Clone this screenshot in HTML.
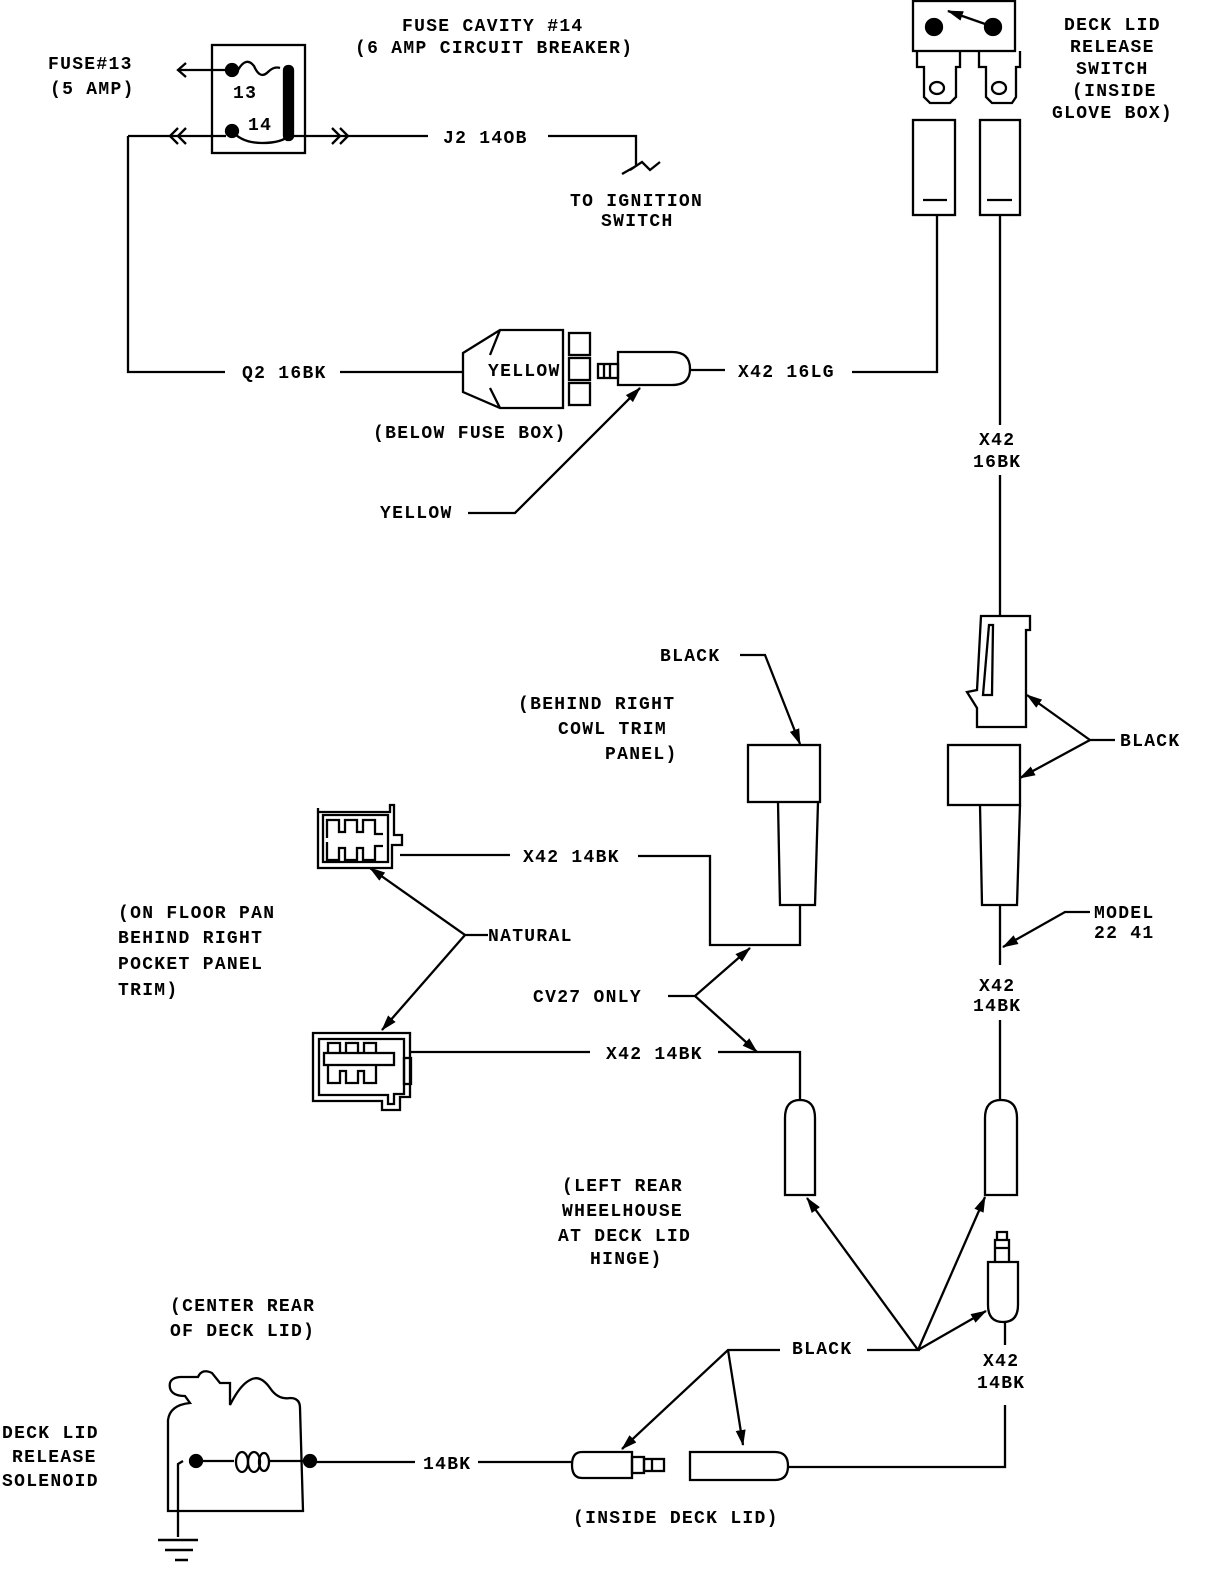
<!DOCTYPE html>
<html><head><meta charset="utf-8"><style>
html,body{margin:0;padding:0;background:#fff;}
svg{display:block}
text{font-family:"Liberation Mono",monospace;font-weight:bold;font-size:18px;letter-spacing:1.3px;fill:#000}
</style></head><body>
<svg width="1216" height="1574" viewBox="0 0 1216 1574" xmlns="http://www.w3.org/2000/svg">
<defs>
<marker id="a" markerWidth="16" markerHeight="12" refX="15" refY="6" orient="auto" markerUnits="userSpaceOnUse" viewBox="0 0 16 12">
<path d="M0,1 L16,6 L0,11 Z" fill="#000"/></marker>
</defs>
<g fill="none" stroke="#000" stroke-width="2.3">
<!-- fuse box -->
<rect x="212" y="45" width="93" height="108"/>
<path d="M232,70 L178,70 M186,63 L178,70 L186,77"/>
<circle cx="232" cy="70" r="6" fill="#000"/><circle cx="232" cy="131" r="6" fill="#000"/>
<path d="M238,70 q8,-14 16,-4 q6,14 14,6 q6,-6 12,-4"/>
<path d="M232,131 q10,12 30,12 q20,0 28,-8"/>
<rect x="284" y="66" width="9" height="74" rx="4" fill="#000"/>
<path d="M128,136 L226,136 M293,136 L348,136"/>
<path d="M178,128 L170,136 L178,144 M186,128 L178,136 L186,144"/>
<path d="M332,128 L340,136 L332,144 M340,128 L348,136 L340,144"/>
<path d="M348,136 L428,136 M548,136 L636,136 L636,166 L622,174 M630,170 L642,162 L650,170 L660,162"/>
<path d="M128,136 L128,372 L225,372 M340,372 L463,372"/>
<!-- yellow connector -->
<path d="M463,353 L500,330 L563,330 L563,408 L500,408 L463,392 Z M500,330 L490,355 M500,408 L490,388"/>
<rect x="569" y="333" width="21" height="22"/><rect x="569" y="358" width="21" height="22"/><rect x="569" y="383" width="21" height="22"/>
<rect x="598" y="364" width="20" height="14"/><path d="M604,364 v14 M610,364 v14"/>
<path d="M618,352 L672,352 Q690,352 690,369 Q690,385 672,385 L618,385 Z"/>
<path d="M690,370 L725,370 M852,372 L937,372 L937,215 M1000,215 L1000,425 M1000,475 L1000,616"/>
<path d="M468,513 L515,513 L640,388" marker-end="url(#a)"/>
<!-- switch -->
<rect x="913" y="1" width="102" height="50"/>
<circle cx="934" cy="27" r="8" fill="#000"/><circle cx="993" cy="27" r="8" fill="#000"/>
<path d="M988,25 L948,11" marker-end="url(#a)"/>
<path d="M917,51 L917,67 L924,67 L924,97 L930,103 L950,103 L956,97 L956,67 L960,67 L960,51"/>
<path d="M979,51 L979,67 L986,67 L986,97 L992,103 L1012,103 L1016,97 L1016,67 L1020,67 L1020,51"/>
<ellipse cx="937" cy="88" rx="7" ry="6"/><ellipse cx="999" cy="88" rx="7" ry="6"/>
<rect x="913" y="120" width="42" height="95"/><rect x="980" y="120" width="40" height="95"/>
<path d="M923,200 L947,200 M987,200 L1012,200"/>
<!-- right upper connectors -->
<path d="M981,616 L1030,616 L1030,630 L1026,630 L1026,727 L977,727 L977,708 L967,692 L977,690 Z M989,625 L993,625 L992,695 L983,695 Z"/>
<rect x="948" y="745" width="72" height="60"/>
<path d="M980,805 L982,905 L1017,905 L1020,805 M1000,905 L1000,965 M1000,1020 L1000,1100"/>
<path d="M1115,740 L1090,740 L1027,695" marker-end="url(#a)"/><path d="M1090,740 L1020,778" marker-end="url(#a)"/>
<path d="M1090,912 L1065,912 L1003,947" marker-end="url(#a)"/>
<path d="M985,1195 L985,1118 Q985,1100 1001,1100 Q1017,1100 1017,1118 L1017,1195 Z"/>
<!-- middle connectors -->
<path d="M740,655 L765,655 L800,744" marker-end="url(#a)"/>
<rect x="748" y="745" width="72" height="57"/>
<path d="M778,802 L780,905 L815,905 L818,802 M800,905 L800,945 L710,945 L710,856 L638,856 M510,855 L400,855"/>
<!-- left upper connector -->
<path d="M318,808 L318,868 L392,868 L392,845 L402,845 L402,835 L394,835 L394,805 L390,805 L390,812 L318,812"/>
<path d="M323,815 L388,815 L388,862 L323,862 Z"/>
<path d="M327,838 v-18 h12 v12 h6 v-12 h12 v12 h6 v-12 h12 v14 h8 M327,842 v18 h12 v-12 h6 v12 h12 v-12 h6 v12 h12 v-14 h8"/>
<path d="M488,935 L465,935 L370,868" marker-end="url(#a)"/><path d="M465,935 L382,1030" marker-end="url(#a)"/>
<path d="M668,996 L695,996 L750,948" marker-end="url(#a)"/><path d="M695,996 L757,1052" marker-end="url(#a)"/>
<!-- left lower connector -->
<path d="M313,1033 L410,1033 L410,1097 L400,1097 L400,1110 L382,1110 L382,1101 L313,1101 Z"/>
<path d="M319,1039 L404,1039 L404,1094 L394,1094 L394,1104 L388,1104 L388,1095 L319,1095 Z"/>
<rect x="324" y="1053" width="70" height="12"/>
<rect x="404" y="1058" width="7" height="26"/>
<path d="M328,1053 v-10 h12 v10 M346,1053 v-10 h12 v10 M364,1053 v-10 h12 v10 M328,1065 v18 h12 v-12 h6 v12 h12 v-12 h6 v12 h12 v-18"/>
<path d="M410,1052 L590,1052 M718,1052 L800,1052 L800,1100"/>
<path d="M785,1195 L785,1118 Q785,1100 800,1100 Q815,1100 815,1118 L815,1195 Z"/>
<!-- black lower arrows -->
<path d="M780,1350 L728,1350 L622,1449" marker-end="url(#a)"/><path d="M728,1350 L743,1445" marker-end="url(#a)"/>
<path d="M867,1350 L918,1350 L807,1198" marker-end="url(#a)"/><path d="M918,1350 L985,1197" marker-end="url(#a)"/><path d="M918,1350 L986,1311" marker-end="url(#a)"/>
<path d="M995,1262 L995,1240 L1009,1240 L1009,1262 M995,1248 h14 M997,1240 v-8 h10 v8"/>
<path d="M988,1262 L1018,1262 L1018,1305 Q1018,1322 1003,1322 Q988,1322 988,1305 Z"/>
<path d="M1005,1322 L1005,1345 M1005,1405 L1005,1467 L788,1467"/>
<!-- bottom connectors -->
<path d="M632,1452 L582,1452 Q572,1452 572,1465 Q572,1478 582,1478 L632,1478 Z"/>
<rect x="632" y="1457" width="12" height="16"/><rect x="644" y="1459" width="20" height="12"/><path d="M652,1459 v12"/>
<path d="M690,1452 L775,1452 Q788,1452 788,1466 Q788,1480 775,1480 L690,1480 Z"/>
<path d="M313,1462 L415,1462 M478,1462 L572,1462"/>
<!-- solenoid -->
<path d="M168,1511 L168,1420 Q170,1405 190,1403 L185,1396 Q172,1396 170,1388 Q168,1378 180,1377 L198,1377 Q202,1368 212,1373 L220,1383 L230,1383 L230,1405 Q240,1385 250,1380 Q260,1374 270,1388 Q278,1400 290,1398 Q300,1398 300,1408 L303,1511 Z"/>
<circle cx="196" cy="1461" r="6" fill="#000"/><circle cx="310" cy="1461" r="6" fill="#000"/>
<path d="M196,1461 L234,1461 M268,1461 L310,1461"/>
<ellipse cx="242" cy="1462" rx="6" ry="10"/><ellipse cx="254" cy="1462" rx="6" ry="10"/><ellipse cx="264" cy="1462" rx="5" ry="9"/>
<path d="M183,1461 L178,1464 L178,1537"/>
<path d="M158,1540 L198,1540 M165,1550 L193,1550 M175,1560 L188,1560" stroke-width="2.5"/>
</g>
<text x="402" y="31">FUSE CAVITY #14</text>
<text x="355" y="53">(6 AMP CIRCUIT BREAKER)</text>
<text x="48" y="69">FUSE#13</text>
<text x="50" y="94">(5 AMP)</text>
<text x="233" y="98" font-size="16">13</text>
<text x="248" y="130" font-size="16">14</text>
<text x="443" y="143">J2 14OB</text>
<text x="570" y="206">TO IGNITION</text>
<text x="601" y="226">SWITCH</text>
<text x="1064" y="30">DECK LID</text>
<text x="1070" y="52">RELEASE</text>
<text x="1076" y="74">SWITCH</text>
<text x="1072" y="96">(INSIDE</text>
<text x="1052" y="118">GLOVE BOX)</text>
<text x="242" y="378">Q2 16BK</text>
<text x="488" y="376">YELLOW</text>
<text x="738" y="377">X42 16LG</text>
<text x="373" y="438">(BELOW FUSE BOX)</text>
<text x="380" y="518">YELLOW</text>
<text x="979" y="445">X42</text>
<text x="973" y="467">16BK</text>
<text x="660" y="661">BLACK</text>
<text x="1120" y="746">BLACK</text>
<text x="518" y="709">(BEHIND RIGHT</text>
<text x="558" y="734">COWL TRIM</text>
<text x="605" y="759">PANEL)</text>
<text x="523" y="862">X42 14BK</text>
<text x="118" y="918">(ON FLOOR PAN</text>
<text x="118" y="943">BEHIND RIGHT</text>
<text x="118" y="969">POCKET PANEL</text>
<text x="118" y="995">TRIM)</text>
<text x="488" y="941">NATURAL</text>
<text x="1094" y="918">MODEL</text>
<text x="1094" y="938">22 41</text>
<text x="979" y="991">X42</text>
<text x="973" y="1011">14BK</text>
<text x="533" y="1002">CV27 ONLY</text>
<text x="606" y="1059">X42 14BK</text>
<text x="562" y="1191">(LEFT REAR</text>
<text x="562" y="1216">WHEELHOUSE</text>
<text x="558" y="1241">AT DECK LID</text>
<text x="590" y="1264">HINGE)</text>
<text x="170" y="1311">(CENTER REAR</text>
<text x="170" y="1336">OF DECK LID)</text>
<text x="792" y="1354">BLACK</text>
<text x="983" y="1366">X42</text>
<text x="977" y="1388">14BK</text>
<text x="2" y="1438">DECK LID</text>
<text x="12" y="1462">RELEASE</text>
<text x="2" y="1486">SOLENOID</text>
<text x="423" y="1469">14BK</text>
<text x="573" y="1523">(INSIDE DECK LID)</text>
</svg>
</body></html>
